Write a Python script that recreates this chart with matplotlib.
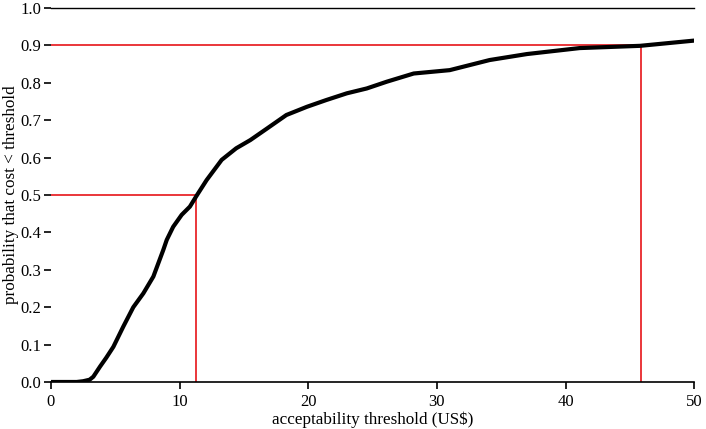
import matplotlib
matplotlib.use("Agg")
import matplotlib.pyplot as plt

threshold = [0.0, 2.0, 2.5, 3.0, 3.29, 3.81, 4.3, 4.85, 5.62, 6.4, 7.18, 7.96,
             8.73, 9.0, 9.5, 10.16, 10.8, 11.3, 12.1, 13.27, 14.4, 15.5, 16.8,
             18.3, 19.9, 21.4, 23.0, 24.55, 26.1, 28.2, 31.0, 34.1, 37.0, 41.1,
             45.8, 50.0]
prob = [0.0, 0.0, 0.002, 0.006, 0.014, 0.041, 0.065, 0.094, 0.148, 0.2, 0.237,
        0.282, 0.353, 0.38, 0.415, 0.447, 0.469, 0.497, 0.54, 0.594, 0.625,
        0.647, 0.678, 0.714, 0.736, 0.754, 0.772, 0.785, 0.803, 0.825, 0.834,
        0.861, 0.877, 0.893, 0.899, 0.913]

# quantile markers
q_levels = [0.5, 0.9]
q_values = [11.3, 45.9]

plt.rcParams.update({
    "font.family": ["Liberation Serif", "DejaVu Serif"],
    "font.size": 11,
})

fig = plt.figure(figsize=(7.06, 4.29), dpi=100)
ax = fig.add_axes([0.0722, 0.1096, 0.911, 0.8716])

ax.plot(threshold, prob, color="black", lw=3, solid_joinstyle="round", zorder=3)

for lvl, val in zip(q_levels, q_values):
    ax.plot([0, val], [lvl, lvl], color="#e8262b", lw=1.3, zorder=2)
    ax.plot([val, val], [0, lvl], color="#e8262b", lw=1.3, zorder=2)

ax.axhline(1.0, color="black", lw=1.0, clip_on=False)

ax.set_xlim(0, 50)
ax.set_ylim(0, 1.0)
ax.set_xticks([0, 10, 20, 30, 40, 50])
ax.set_yticks([i / 10 for i in range(11)])
ax.set_yticklabels([f"{i / 10:.1f}" for i in range(11)])

for s in ["top", "right", "left"]:
    ax.spines[s].set_visible(False)
ax.spines["bottom"].set_linewidth(1.2)
ax.tick_params(axis="both", direction="out", length=5, width=1.2, labelsize=12)
ax.tick_params(axis="y", pad=2)

ax.set_xlabel("acceptability threshold (US$)", fontsize=12.3, labelpad=1)
ax.set_ylabel("probability that cost < threshold", fontsize=12.3, labelpad=1)

fig.savefig("out.png", dpi=100)
